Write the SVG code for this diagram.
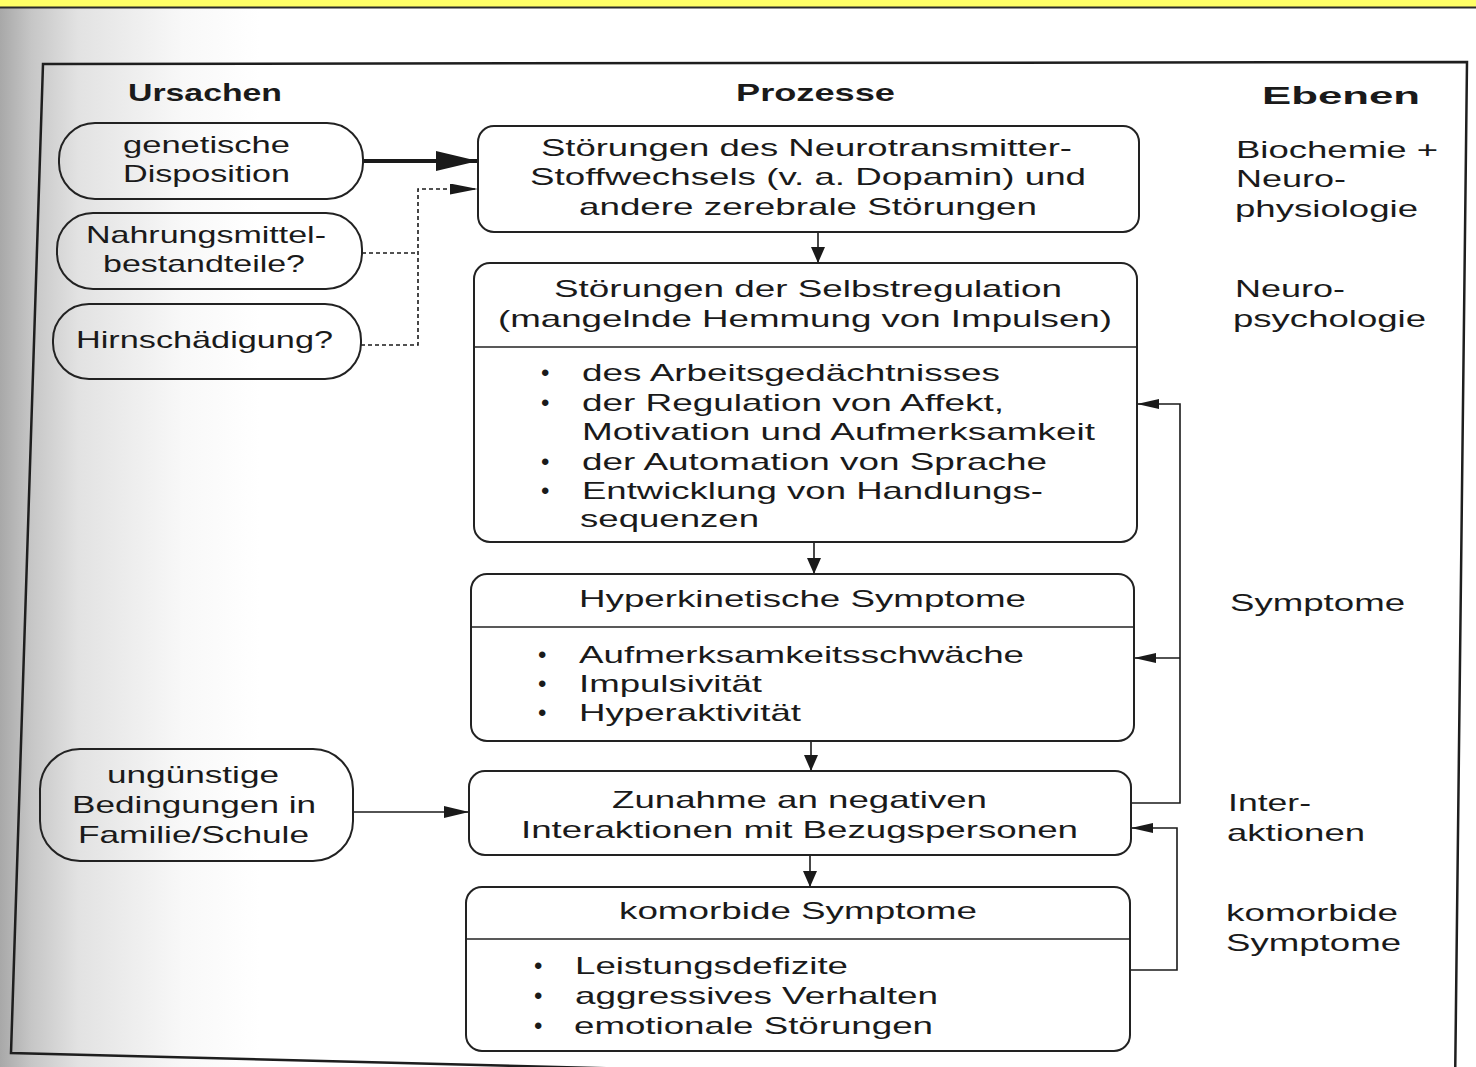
<svg xmlns="http://www.w3.org/2000/svg" width="1476" height="1067" viewBox="0 0 1476 1067">
<defs>
<linearGradient id="shade" x1="0" y1="0" x2="1" y2="0">
<stop offset="0" stop-color="#a8a8a8"/>
<stop offset="0.12" stop-color="#c6c6c6"/>
<stop offset="0.3" stop-color="#e2e2e2"/>
<stop offset="0.7" stop-color="#f8f8f8"/>
<stop offset="1" stop-color="#ffffff"/>
</linearGradient>
<marker id="ahv" markerUnits="userSpaceOnUse" markerWidth="16" markerHeight="14" refX="16" refY="7" orient="auto"><path d="M0,0 L16,7 L0,14 z" fill="#1a1a1a"/></marker>
<marker id="ahf" markerUnits="userSpaceOnUse" markerWidth="22" markerHeight="10" refX="22" refY="5" orient="auto"><path d="M0,0 L22,5 L0,10 z" fill="#1a1a1a"/></marker>
<marker id="ahm" markerUnits="userSpaceOnUse" markerWidth="25" markerHeight="12" refX="25" refY="6" orient="auto"><path d="M0,0 L25,6 L0,12 z" fill="#1a1a1a"/></marker>
<marker id="ahd" markerUnits="userSpaceOnUse" markerWidth="28" markerHeight="11" refX="28" refY="5.5" orient="auto"><path d="M0,0 L28,5.5 L0,11 z" fill="#1a1a1a"/></marker>
<marker id="aht" markerUnits="userSpaceOnUse" markerWidth="42" markerHeight="20" refX="42" refY="10" orient="auto"><path d="M0,0 L42,10 L0,20 z" fill="#1a1a1a"/></marker>
</defs>
<style>
text{font-family:"Liberation Sans",Arial,sans-serif;font-size:24px;fill:#1a1a1a}
.h{font-weight:bold}
.box{fill:#ffffff;stroke:#222;stroke-width:2}
.pill{fill:none;stroke:#222;stroke-width:2}
.div{stroke:#222;stroke-width:1.6}
.con{fill:none;stroke:#1a1a1a;stroke-width:1.6}
.thick{fill:none;stroke:#1a1a1a;stroke-width:4}
</style>
<rect x="0" y="0" width="1476" height="1067" fill="#ffffff"/>
<rect x="0" y="0" width="260" height="1067" fill="url(#shade)"/>
<polygon points="43,64 1467,62 1455,1090 11,1053" fill="none" stroke="#1e1e1e" stroke-width="2.5"/>
<rect x="0" y="0" width="1476" height="7" fill="#ffff66"/>
<line x1="0" y1="7.5" x2="1476" y2="7.5" stroke="#2a2a2a" stroke-width="2"/>

<g id="headers">
<text class="h" x="128" y="101" textLength="154" lengthAdjust="spacingAndGlyphs">Ursachen</text>
<text class="h" x="736" y="101" textLength="159" lengthAdjust="spacingAndGlyphs">Prozesse</text>
<text class="h" x="1262" y="104" textLength="158" lengthAdjust="spacingAndGlyphs">Ebenen</text>
</g>

<g id="connectors">
<line class="thick" x1="363" y1="161" x2="478" y2="161" marker-end="url(#aht)"/>
<path class="con" d="M362,253 H418 M361,345 H418 V189 H478" stroke-dasharray="4,3" marker-end="url(#ahd)"/>
<line class="con" x1="818" y1="232" x2="818" y2="263" marker-end="url(#ahv)"/>
<line class="con" x1="814" y1="542" x2="814" y2="574" marker-end="url(#ahv)"/>
<line class="con" x1="811" y1="741" x2="811" y2="771" marker-end="url(#ahv)"/>
<line class="con" x1="810" y1="855" x2="810" y2="887" marker-end="url(#ahv)"/>
<line class="con" x1="353" y1="812" x2="469" y2="812" marker-end="url(#ahm)"/>
<path class="con" d="M1131,803 H1180 V404 H1137" marker-end="url(#ahf)"/>
<path class="con" d="M1180,658 H1134" marker-end="url(#ahf)"/>
<path class="con" d="M1130,970 H1177 V828 H1131" marker-end="url(#ahf)"/>
</g>

<g id="n-genetisch">
<rect class="pill" x="59" y="123" width="304" height="76" rx="36"/>
<text x="123" y="153" textLength="167" lengthAdjust="spacingAndGlyphs">genetische</text>
<text x="123" y="182" textLength="167" lengthAdjust="spacingAndGlyphs">Disposition</text>
</g>
<g id="n-nahrung">
<rect class="pill" x="57" y="213" width="305" height="76" rx="36"/>
<text x="86" y="243" textLength="240" lengthAdjust="spacingAndGlyphs">Nahrungsmittel-</text>
<text x="103" y="272" textLength="202" lengthAdjust="spacingAndGlyphs">bestandteile?</text>
</g>
<g id="n-hirn">
<rect class="pill" x="53" y="304" width="308" height="75" rx="36"/>
<text x="76" y="348" textLength="257" lengthAdjust="spacingAndGlyphs">Hirnschädigung?</text>
</g>
<g id="n-umwelt">
<rect class="pill" x="40" y="749" width="313" height="112" rx="40"/>
<text x="107" y="783" textLength="172" lengthAdjust="spacingAndGlyphs">ungünstige</text>
<text x="72" y="813" textLength="244" lengthAdjust="spacingAndGlyphs">Bedingungen in</text>
<text x="78" y="843" textLength="231" lengthAdjust="spacingAndGlyphs">Familie/Schule</text>
</g>

<g id="n-neurotransmitter">
<rect class="box" x="478" y="126" width="661" height="106" rx="16"/>
<text x="541" y="156" textLength="531" lengthAdjust="spacingAndGlyphs">Störungen des Neurotransmitter-</text>
<text x="530" y="185" textLength="556" lengthAdjust="spacingAndGlyphs">Stoffwechsels (v. a. Dopamin) und</text>
<text x="579" y="215" textLength="458" lengthAdjust="spacingAndGlyphs">andere zerebrale Störungen</text>
</g>
<g id="n-selbstregulation">
<rect class="box" x="474" y="263" width="663" height="279" rx="16"/>
<line class="div" x1="474" y1="347" x2="1137" y2="347"/>
<text x="554" y="297" textLength="508" lengthAdjust="spacingAndGlyphs">Störungen der Selbstregulation</text>
<text x="498" y="327" textLength="614" lengthAdjust="spacingAndGlyphs">(mangelnde Hemmung von Impulsen)</text>
<text x="541" y="381">•</text>
<text x="582" y="381" textLength="418" lengthAdjust="spacingAndGlyphs">des Arbeitsgedächtnisses</text>
<text x="541" y="411">•</text>
<text x="582" y="411" textLength="422" lengthAdjust="spacingAndGlyphs">der Regulation von Affekt,</text>
<text x="582" y="440" textLength="513" lengthAdjust="spacingAndGlyphs">Motivation und Aufmerksamkeit</text>
<text x="541" y="470">•</text>
<text x="582" y="470" textLength="465" lengthAdjust="spacingAndGlyphs">der Automation von Sprache</text>
<text x="541" y="499">•</text>
<text x="582" y="499" textLength="461" lengthAdjust="spacingAndGlyphs">Entwicklung von Handlungs-</text>
<text x="580" y="527" textLength="179" lengthAdjust="spacingAndGlyphs">sequenzen</text>
</g>
<g id="n-hyperkinetisch">
<rect class="box" x="471" y="574" width="663" height="167" rx="16"/>
<line class="div" x1="471" y1="627" x2="1134" y2="627"/>
<text x="579" y="607" textLength="447" lengthAdjust="spacingAndGlyphs">Hyperkinetische Symptome</text>
<text x="538" y="663">•</text>
<text x="579" y="663" textLength="445" lengthAdjust="spacingAndGlyphs">Aufmerksamkeitsschwäche</text>
<text x="538" y="692">•</text>
<text x="579" y="692" textLength="183" lengthAdjust="spacingAndGlyphs">Impulsivität</text>
<text x="538" y="721">•</text>
<text x="579" y="721" textLength="222" lengthAdjust="spacingAndGlyphs">Hyperaktivität</text>
</g>
<g id="n-interaktionen">
<rect class="box" x="469" y="771" width="662" height="84" rx="16"/>
<text x="612" y="808" textLength="375" lengthAdjust="spacingAndGlyphs">Zunahme an negativen</text>
<text x="521" y="838" textLength="557" lengthAdjust="spacingAndGlyphs">Interaktionen mit Bezugspersonen</text>
</g>
<g id="n-komorbid">
<rect class="box" x="466" y="887" width="664" height="164" rx="16"/>
<line class="div" x1="466" y1="939" x2="1130" y2="939"/>
<text x="619" y="919" textLength="358" lengthAdjust="spacingAndGlyphs">komorbide Symptome</text>
<text x="534" y="974">•</text>
<text x="575" y="974" textLength="273" lengthAdjust="spacingAndGlyphs">Leistungsdefizite</text>
<text x="534" y="1004">•</text>
<text x="575" y="1004" textLength="363" lengthAdjust="spacingAndGlyphs">aggressives Verhalten</text>
<text x="534" y="1034">•</text>
<text x="574" y="1034" textLength="359" lengthAdjust="spacingAndGlyphs">emotionale Störungen</text>
</g>

<g id="ebenen">
<text x="1236" y="158" textLength="202" lengthAdjust="spacingAndGlyphs">Biochemie +</text>
<text x="1236" y="187" textLength="110" lengthAdjust="spacingAndGlyphs">Neuro-</text>
<text x="1235" y="217" textLength="183" lengthAdjust="spacingAndGlyphs">physiologie</text>
<text x="1235" y="297" textLength="110" lengthAdjust="spacingAndGlyphs">Neuro-</text>
<text x="1233" y="327" textLength="193" lengthAdjust="spacingAndGlyphs">psychologie</text>
<text x="1230" y="611" textLength="175" lengthAdjust="spacingAndGlyphs">Symptome</text>
<text x="1228" y="811" textLength="83" lengthAdjust="spacingAndGlyphs">Inter-</text>
<text x="1227" y="841" textLength="138" lengthAdjust="spacingAndGlyphs">aktionen</text>
<text x="1226" y="921" textLength="172" lengthAdjust="spacingAndGlyphs">komorbide</text>
<text x="1226" y="951" textLength="175" lengthAdjust="spacingAndGlyphs">Symptome</text>
</g>
</svg>
